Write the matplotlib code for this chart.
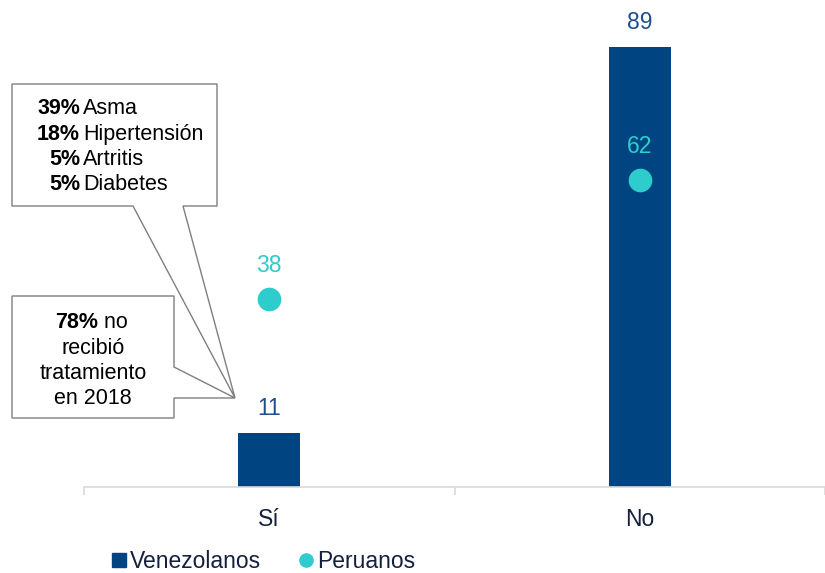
import numpy as np
import matplotlib
matplotlib.use("Agg")
import matplotlib.pyplot as plt
from matplotlib.patches import Polygon
from matplotlib.lines import Line2D

plt.rcParams['font.family'] = ['Liberation Sans', 'DejaVu Sans']

categories = ['Sí', 'No']
venezolanos = [11, 89]
peruanos = [38, 62]

bar_color = '#004481'
dot_color = '#2ECCCC'
text_dark = '#14213D'

W, H = 825, 573
fig = plt.figure(figsize=(W / 100, H / 100), dpi=100)
# axes: x from ~84 px to right edge, baseline at y=487 px
left_px = 84
unit_px = 375
ax = fig.add_axes([left_px / W, (H - 487) / H, (W - left_px) / W, 487 / H])
x = np.arange(len(categories))
ax.bar(x, venezolanos, width=0.166, color=bar_color, zorder=2)
ax.scatter(x, peruanos, s=290, color=dot_color, zorder=3, linewidths=0)

for xi, v in zip(x, venezolanos):
    ax.annotate(str(v), (xi, v), xytext=(0, 9), textcoords='offset points',
                ha='center', va='bottom', fontsize=16.5, color='#1F4E8C')
for xi, p in zip(x, peruanos):
    ax.annotate(str(p), (xi, p), xytext=(0, 16), textcoords='offset points',
                ha='center', va='bottom', fontsize=16.5, color=dot_color)

ax.set_xlim(-0.5, (W - left_px) / unit_px - 0.5)
ax.set_ylim(0, 487 / 4.944)
for s in ['top', 'right', 'left']:
    ax.spines[s].set_visible(False)
ax.spines['bottom'].set_color('#D9D9D9')
ax.spines['bottom'].set_linewidth(1.2)
ax.set_yticks([])
ax.set_xticks([-0.5, 0.5, 1.5], minor=False)
ax.set_xticklabels([])
ax.tick_params(axis='x', which='major', length=6, color='#D9D9D9', width=1.2)
ax.set_xticks(x, minor=True)
ax.set_xticklabels(categories, minor=True, fontsize=16.5, color=text_dark)
ax.tick_params(axis='x', which='minor', length=0, pad=15)


# callout boxes, in pixel coords (top-left origin)
def px(pts):
    return [(a / W, 1 - b / H) for a, b in pts]


box1 = [(12, 84), (217, 84), (217, 206), (183, 206), (235, 398), (133, 206), (12, 206)]
box2 = [(12, 296), (174, 296), (174, 367), (235, 398), (174, 398), (174, 418), (12, 418)]
for b in (box1, box2):
    fig.patches.append(Polygon(px(b), closed=True, facecolor='white', edgecolor='#7F7F7F',
                               linewidth=1.0, transform=fig.transFigure, zorder=5))

lines1 = [('39%', 'Asma'), ('18%', 'Hipertensión'), ('5%', 'Artritis'), ('5%', 'Diabetes')]
for i, (pct, name) in enumerate(lines1):
    yy = 1 - (109 + 25.3 * i) / H
    fig.text(80 / W, yy, pct, ha='right', va='center', fontsize=15.5, fontweight='bold', zorder=6)
    fig.text(83 / W, yy, name, ha='left', va='center', fontsize=15.5, zorder=6)

yy = 1 - 323 / H
fig.text(98 / W, yy, '78%', ha='right', va='center', fontsize=15.5, fontweight='bold', zorder=6)
fig.text(98 / W, yy, ' no', ha='left', va='center', fontsize=15.5, zorder=6)
for i, t in enumerate(['recibió', 'tratamiento', 'en 2018']):
    fig.text(93 / W, 1 - (348 + 25.3 * i) / H, t, ha='center', va='center', fontsize=15.5, zorder=6)

handles = [Line2D([], [], marker='s', linestyle='none', markersize=9.5, color=bar_color),
           Line2D([], [], marker='o', linestyle='none', markersize=9.5, color=dot_color)]
fig.legend(handles, ['Venezolanos', 'Peruanos'], loc='center left',
           bbox_to_anchor=(110 / W, 1 - 562 / H), ncol=2, frameon=False, fontsize=16.5,
           handletextpad=0.05, columnspacing=1.6, handlelength=0.8, labelcolor=text_dark,
           borderaxespad=0, borderpad=0)

fig.savefig('out.png', dpi=100)
